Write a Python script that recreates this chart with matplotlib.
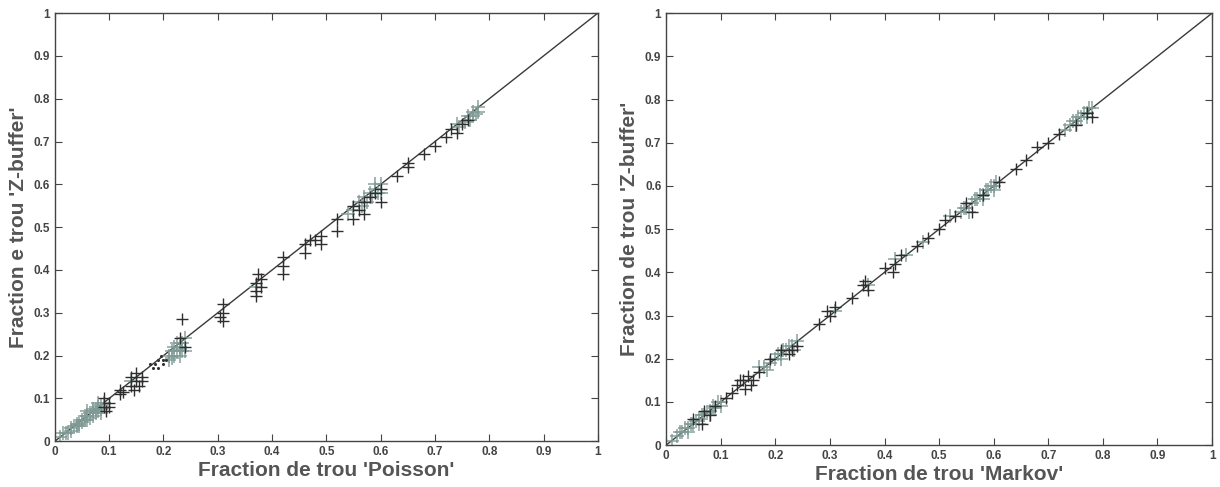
import matplotlib.pyplot as plt
import numpy as np

plt.rcParams['font.family'] = ['Liberation Sans', 'DejaVu Sans']

# --- Données : graphique 'Poisson' ---
pois_dark_x = [0.09, 0.09, 0.095, 0.10, 0.10, 0.12, 0.12, 0.125, 0.14, 0.14, 0.145, 0.15, 0.15, 0.155,
               0.16, 0.16, 0.23, 0.235, 0.24, 0.31, 0.31, 0.31, 0.305, 0.37, 0.37, 0.37, 0.38, 0.38,
               0.375, 0.42, 0.42, 0.42, 0.46, 0.46, 0.47, 0.48, 0.49, 0.49, 0.52, 0.52, 0.55, 0.55,
               0.56, 0.57, 0.57, 0.58, 0.59, 0.60, 0.60, 0.63, 0.65, 0.65, 0.68, 0.70, 0.72, 0.73,
               0.74, 0.75, 0.76]
pois_dark_y = [0.10, 0.08, 0.07, 0.09, 0.08, 0.12, 0.11, 0.115, 0.15, 0.13, 0.12, 0.16, 0.14, 0.13,
               0.15, 0.14, 0.24, 0.285, 0.22, 0.32, 0.30, 0.28, 0.29, 0.37, 0.35, 0.34, 0.38, 0.36,
               0.39, 0.43, 0.41, 0.39, 0.46, 0.44, 0.47, 0.47, 0.48, 0.46, 0.52, 0.49, 0.55, 0.52,
               0.54, 0.56, 0.53, 0.57, 0.58, 0.59, 0.56, 0.62, 0.65, 0.64, 0.67, 0.69, 0.71, 0.73,
               0.72, 0.74, 0.75]
pois_dots_x = [0.175, 0.18, 0.185, 0.19, 0.19, 0.195, 0.20, 0.20, 0.205]
pois_dots_y = [0.18, 0.17, 0.18, 0.17, 0.19, 0.20, 0.18, 0.19, 0.19]
pois_grey_x = [0.01, 0.015, 0.02, 0.025, 0.03, 0.03, 0.035, 0.04, 0.04, 0.045, 0.05, 0.05, 0.055, 0.055,
               0.06, 0.06, 0.065, 0.065, 0.07, 0.07, 0.075, 0.075, 0.08, 0.08, 0.085, 0.085, 0.09, 0.08,
               0.045, 0.06, 0.07, 0.085,
               0.14, 0.21, 0.21, 0.215, 0.22, 0.22, 0.225, 0.225, 0.23, 0.23, 0.235, 0.235, 0.24, 0.24,
               0.215, 0.23,
               0.37, 0.54, 0.55, 0.56, 0.565, 0.57, 0.575, 0.58, 0.585, 0.59, 0.595, 0.60, 0.59, 0.60,
               0.74, 0.745, 0.755, 0.76, 0.765, 0.77, 0.77, 0.775, 0.78, 0.78]
pois_grey_y = [0.01, 0.02, 0.02, 0.02, 0.03, 0.025, 0.035, 0.04, 0.035, 0.04, 0.05, 0.045, 0.05, 0.06,
               0.06, 0.05, 0.065, 0.055, 0.07, 0.06, 0.075, 0.065, 0.08, 0.07, 0.085, 0.075, 0.09, 0.09,
               0.035, 0.07, 0.075, 0.065,
               0.14, 0.20, 0.19, 0.21, 0.22, 0.20, 0.21, 0.23, 0.22, 0.20, 0.23, 0.21, 0.24, 0.21,
               0.195, 0.215,
               0.36, 0.53, 0.54, 0.56, 0.55, 0.57, 0.56, 0.58, 0.57, 0.59, 0.58, 0.60, 0.60, 0.58,
               0.74, 0.735, 0.745, 0.76, 0.75, 0.77, 0.76, 0.765, 0.78, 0.77]

# --- Données : graphique 'Markov' ---
mark_dark_x = [0.05, 0.07, 0.08, 0.09, 0.11, 0.12, 0.13, 0.14, 0.15, 0.155, 0.16, 0.17, 0.19, 0.21,
               0.23, 0.24, 0.28, 0.30, 0.31, 0.34, 0.36, 0.37, 0.40, 0.42, 0.43, 0.46, 0.48, 0.50,
               0.51, 0.53, 0.55, 0.58, 0.61, 0.64, 0.66, 0.68, 0.70, 0.72, 0.75, 0.77, 0.78,
               0.065, 0.135, 0.145, 0.225, 0.295, 0.365, 0.415, 0.56]
mark_dark_y = [0.06, 0.08, 0.07, 0.09, 0.11, 0.12, 0.14, 0.15, 0.16, 0.14, 0.15, 0.17, 0.20, 0.22,
               0.22, 0.23, 0.28, 0.30, 0.32, 0.34, 0.37, 0.36, 0.41, 0.42, 0.44, 0.46, 0.48, 0.50,
               0.52, 0.53, 0.56, 0.58, 0.61, 0.64, 0.66, 0.69, 0.70, 0.72, 0.74, 0.77, 0.76,
               0.05, 0.15, 0.13, 0.21, 0.31, 0.38, 0.40, 0.54]
mark_grey_x = [0.01, 0.02, 0.025, 0.03, 0.035, 0.04, 0.045, 0.05, 0.055, 0.06, 0.065, 0.07, 0.075,
               0.08, 0.085, 0.09, 0.095, 0.10, 0.04, 0.06, 0.08, 0.10,
               0.17, 0.18, 0.19, 0.20, 0.205, 0.21, 0.215, 0.22,
               0.225, 0.23, 0.24, 0.185, 0.21, 0.235,
               0.31, 0.37, 0.42, 0.44, 0.47, 0.52, 0.54, 0.545, 0.55, 0.56, 0.565,
               0.57, 0.575, 0.58, 0.585, 0.59, 0.595, 0.60, 0.605, 0.555, 0.58, 0.60,
               0.73, 0.74, 0.745, 0.75, 0.755, 0.76, 0.765, 0.77, 0.775, 0.78, 0.75, 0.77]
mark_grey_y = [0.01, 0.02, 0.03, 0.03, 0.04, 0.04, 0.05, 0.05, 0.055, 0.06, 0.07, 0.07, 0.075,
               0.08, 0.09, 0.085, 0.10, 0.10, 0.03, 0.05, 0.07, 0.09,
               0.18, 0.18, 0.19, 0.20, 0.21, 0.21, 0.22, 0.22,
               0.23, 0.23, 0.24, 0.175, 0.20, 0.22,
               0.31, 0.37, 0.43, 0.44, 0.47, 0.53, 0.54, 0.55, 0.55, 0.56, 0.57,
               0.57, 0.58, 0.58, 0.59, 0.59, 0.60, 0.60, 0.61, 0.54, 0.57, 0.59,
               0.73, 0.74, 0.75, 0.75, 0.76, 0.76, 0.77, 0.77, 0.78, 0.78, 0.74, 0.76]

ticks = np.arange(0, 1.01, 0.1)
tick_labels = ['0', '0.1', '0.2', '0.3', '0.4', '0.5', '0.6', '0.7', '0.8', '0.9', '1']

fig = plt.figure(figsize=(12.2, 4.87), dpi=100)

panels = [
    ([0.045, 0.094, 0.445, 0.879], "Fraction de trou 'Poisson'", "Fraction e trou 'Z-buffer'",
     pois_grey_x, pois_grey_y, pois_dark_x, pois_dark_y, True),
    ([0.546, 0.086, 0.4475, 0.887], "Fraction de trou 'Markov'", "Fraction de trou 'Z-buffer'",
     mark_grey_x, mark_grey_y, mark_dark_x, mark_dark_y, False),
]

for rect, xlab, ylab, gx, gy, dx, dy, has_dots in panels:
    ax = fig.add_axes(rect)
    ax.plot([0, 1], [0, 1], color='#3a3a3a', linewidth=1.0, zorder=1)
    ax.scatter(gx, gy, marker='+', s=95, color='#7f9a95', linewidths=1.2, alpha=0.85, zorder=2)
    ax.scatter(dx, dy, marker='+', s=75, color='#2e2e2e', linewidths=1.0, zorder=3)
    if has_dots:
        ax.scatter(pois_dots_x, pois_dots_y, marker='.', s=6, color='#333333', zorder=3)
    ax.set_xlim(0, 1)
    ax.set_ylim(0, 1)
    ax.set_xticks(ticks)
    ax.set_yticks(ticks)
    ax.set_xticklabels(tick_labels)
    ax.set_yticklabels(tick_labels)
    ax.tick_params(direction='in', top=True, right=True, length=5, width=0.8,
                   labelsize=8.5, labelcolor='#444444', colors='#444444')
    for lab in ax.get_xticklabels() + ax.get_yticklabels():
        lab.set_fontweight('bold')
    for sp in ax.spines.values():
        sp.set_color('#444444')
        sp.set_linewidth(1.0)
    ax.set_xlabel(xlab, fontsize=15, fontweight='bold', color='#555555', labelpad=2)
    ax.set_ylabel(ylab, fontsize=15, fontweight='bold', color='#555555', labelpad=4)

fig.savefig('out.png', dpi=100)
